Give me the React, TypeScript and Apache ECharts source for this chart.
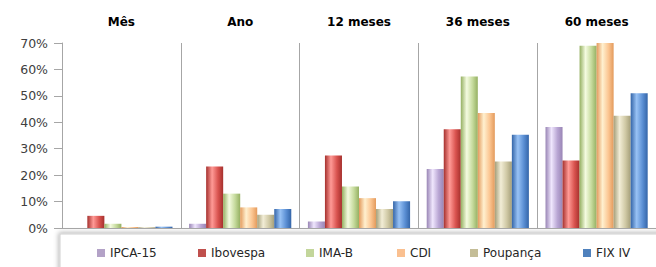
import React, { useEffect, useRef } from "react";
import * as echarts from "echarts";

const categories = ["Mês", "Ano", "12 meses", "36 meses", "60 meses"];
const seriesNames = ["IPCA-15", "Ibovespa", "IMA-B", "CDI", "Poupança", "FIX IV"];
const ipca15 = [0.0, 1.6, 2.5, 22.3, 38.2];
const ibovespa = [4.6, 23.3, 27.4, 37.4, 25.5];
const imab = [1.6, 13.0, 15.7, 57.3, 69.0];
const cdi = [0.4, 7.8, 11.3, 43.5, 70.0];
const poupanca = [0.3, 5.0, 7.2, 25.2, 42.5];
const fixiv = [0.5, 7.2, 10.1, 35.3, 51.0];
const yTicks = [0, 10, 20, 30, 40, 50, 60, 70];

const seriesData = [ipca15, ibovespa, imab, cdi, poupanca, fixiv];
const palette = [
  { dark: "#9985b5", light: "#efe6fd", base: "#b9a6d4", legend: "#b3a2c7" },
  { dark: "#a5302d", light: "#ff9a96", base: "#d9534f", legend: "#c0504d" },
  { dark: "#95b062", light: "#f4fbe0", base: "#c5da9c", legend: "#c3d69b" },
  { dark: "#e39a5c", light: "#fff0cf", base: "#fbc591", legend: "#fac090" },
  { dark: "#a59f7a", light: "#f2edd6", base: "#cfc8a4", legend: "#c4bd97" },
  { dark: "#3465a8", light: "#98c2f5", base: "#5b8fd4", legend: "#4f81bd" },
];
const legendLefts = [97, 198, 306, 397, 470, 583];

export default function App() {
  const ref = useRef<HTMLDivElement>(null);
  useEffect(() => {
    if (!ref.current) return;
    const chart = echarts.init(ref.current, null, { renderer: "svg" });
    const font = "DejaVu Sans";
    const series = seriesNames.map((name, i) => ({
      name,
      type: "bar",
      data: seriesData[i],
      barGap: "0%",
      barCategoryGap: "14%",
      itemStyle: {
        color: new echarts.graphic.LinearGradient(0, 0, 1, 0, [
          { offset: 0, color: palette[i].dark },
          { offset: 0.35, color: palette[i].light },
          { offset: 0.7, color: palette[i].base },
          { offset: 1, color: palette[i].dark },
        ]),
      },
    }));
    const legends = seriesNames.map((name, i) => ({
      data: [{ name, itemStyle: { color: palette[i].legend } }],
      left: legendLefts[i],
      top: 247,
      itemWidth: 8,
      itemHeight: 8,
      icon: "rect",
      itemGap: 4,
      textStyle: { fontFamily: font, fontSize: 12, color: "#262626", padding: [0, 0, 0, 0] },
      padding: 0,
    }));
    chart.setOption({
      animation: false,
      textStyle: { fontFamily: font },
      graphic: [
        {
          type: "rect",
          z: -1,
          shape: { x: 60, y: 234, width: 620, height: 50 },
          style: {
            fill: "#ffffff",
            stroke: "#cfcfcf",
            lineWidth: 1,
            shadowBlur: 5,
            shadowColor: "rgba(0,0,0,0.3)",
            shadowOffsetX: -1,
            shadowOffsetY: -1,
          },
        },
      ],
      legend: legends,
      grid: { left: 62, top: 43, width: 602, height: 185 },
      xAxis: [
        {
          type: "category",
          data: categories,
          position: "bottom",
          axisLine: { show: true, lineStyle: { color: "#a6a6a6" } },
          axisTick: { show: false },
          axisLabel: { show: false },
          splitLine: { show: true, lineStyle: { color: "#a6a6a6", width: 1 } },
        },
        {
          type: "category",
          data: categories,
          position: "top",
          axisLine: { show: false },
          axisTick: { show: false },
          axisLabel: {
            show: true,
            margin: 15,
            fontFamily: font,
            fontSize: 12,
            fontWeight: "bold",
            color: "#000000",
          },
        },
      ],
      yAxis: {
        type: "value",
        min: yTicks[0],
        max: yTicks[yTicks.length - 1],
        interval: 10,
        axisLine: { show: true, lineStyle: { color: "#a6a6a6" } },
        axisTick: { show: true, length: 8, lineStyle: { color: "#a6a6a6" } },
        axisLabel: {
          formatter: "{value}%",
          fontFamily: font,
          fontSize: 12.5,
          color: "#404040",
          margin: 14,
        },
        splitLine: { show: false },
      },
      series,
    });
    return () => chart.dispose();
  }, []);
  return (
    <div
      ref={ref}
      style={{ position: "fixed", left: 0, top: 0, width: 656, height: 267, background: "#fff" }}
    />
  );
}
